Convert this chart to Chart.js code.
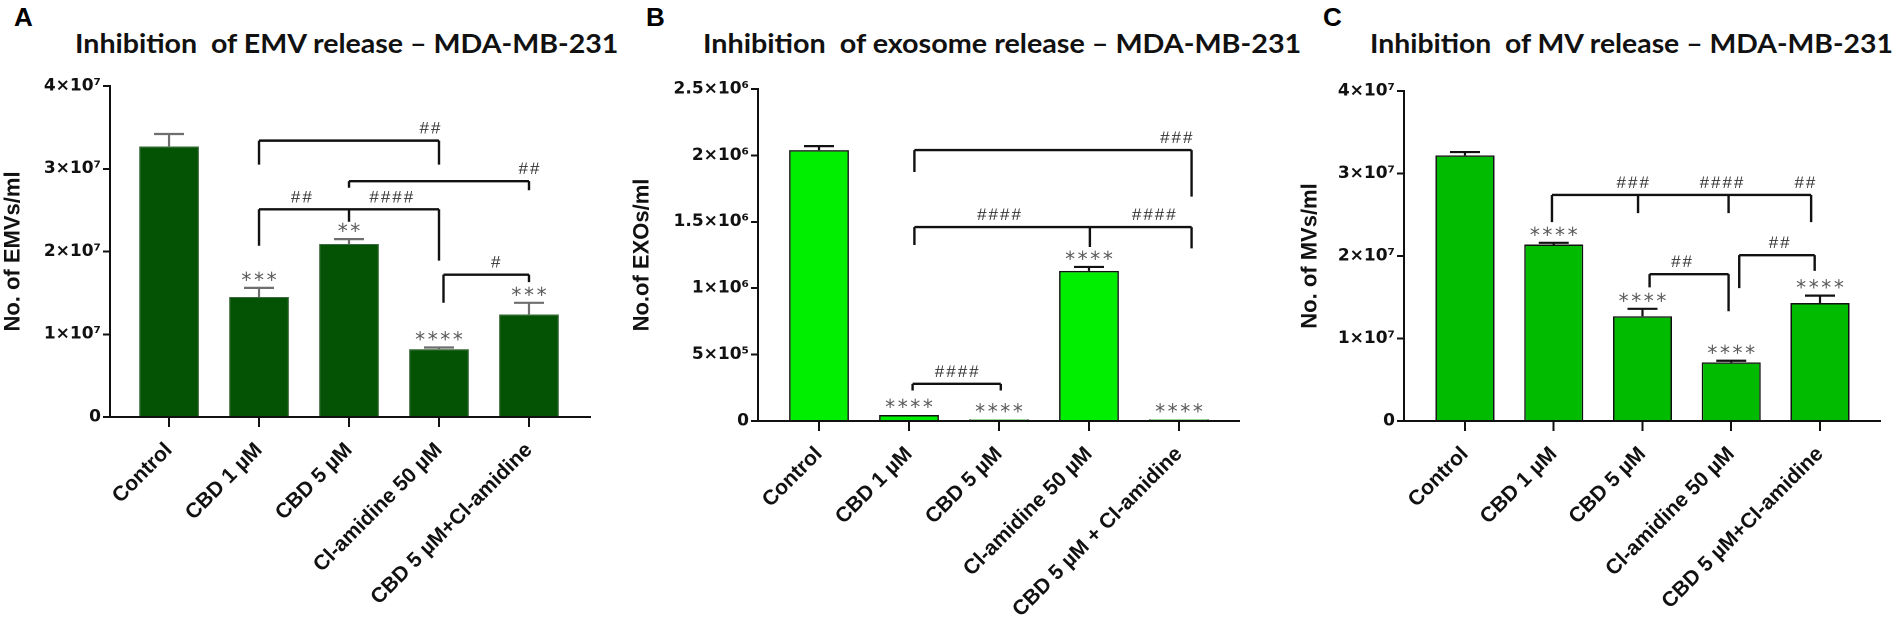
<!DOCTYPE html>
<html>
<head>
<meta charset="utf-8">
<script src="https://cdn.jsdelivr.net/npm/chart.js@4.4.1/dist/chart.umd.min.js"></script>
<style>
html, body { margin: 0; padding: 0; background: #fff; }
body { width: 1902px; height: 627px; overflow: hidden; position: relative; }
canvas { position: absolute; top: 0; }
.letter { position: absolute; top: 4px; font: bold 26px "Liberation Sans", Arial, sans-serif; line-height: 26px; color: #000; }
.title { position: absolute; top: 29px; font: 700 27px Lato, sans-serif; line-height: 27px; white-space: pre; transform-origin: 0 0; color: #111; }
</style>
</head>
<body>
<div class="letter" style="left:14px">A</div>
<div class="letter" style="left:646px">B</div>
<div class="letter" style="left:1323px">C</div>
<div class="title" style="left:75px" data-w="543">Inhibition  of EMV release – MDA-MB-231</div>
<div class="title" style="left:703px" data-w="598">Inhibition  of exosome release – MDA-MB-231</div>
<div class="title" style="left:1370px" data-w="523">Inhibition  of MV release – MDA-MB-231</div>
<canvas id="chartA" width="620" height="627" style="left:0px"></canvas>
<canvas id="chartB" width="632" height="627" style="left:628px"></canvas>
<canvas id="chartC" width="606" height="627" style="left:1296px"></canvas>
<script>
// categories
var categories = ['Control', 'CBD 1 µM', 'CBD 5 µM', 'Cl-amidine 50 µM', 'CBD 5 µM+Cl-amidine'];
var categoriesExo = ['Control', 'CBD 1 µM', 'CBD 5 µM', 'Cl-amidine 50 µM', 'CBD 5 µM + Cl-amidine'];

// A - EMVs
var emvMean = [3.27e7, 1.45e7, 2.09e7, 0.82e7, 1.24e7];
var emvErrTop = [3.42e7, 1.56e7, 2.15e7, 0.84e7, 1.38e7];
var emvStars = ['', '***', '**', '****', '***'];
var emvTicks = ['0', '1×10⁷', '2×10⁷', '3×10⁷', '4×10⁷'];

// B - exosomes
var exoMean = [2.04e6, 4.5e4, 1.2e4, 1.13e6, 1.2e4];
var exoErrTop = [2.07e6, 4.5e4, 1.2e4, 1.16e6, 1.2e4];
var exoStars = ['', '****', '****', '****', '****'];
var exoTicks = ['0', '5×10⁵', '1×10⁶', '1.5×10⁶', '2×10⁶', '2.5×10⁶'];

// C - MVs
var mvMean = [3.22e7, 2.14e7, 1.27e7, 0.71e7, 1.43e7];
var mvErrTop = [3.26e7, 2.16e7, 1.36e7, 0.73e7, 1.52e7];
var mvStars = ['', '****', '****', '****', '****'];
var mvTicks = ['0', '1×10⁷', '2×10⁷', '3×10⁷', '4×10⁷'];

// significance brackets (category index, value)
var emvBrackets = [
  { top: 3.34e7, legs: [[1, 3.05e7], [3, 3.05e7]], marks: [[2.9, '##']] },
  { top: 2.85e7, legs: [[2, 2.77e7], [4, 2.74e7]], marks: [[4, '##']] },
  { top: 2.51e7, legs: [[1, 2.07e7], [2, 2.36e7], [3, 1.89e7]], marks: [[1.47, '##'], [2.47, '####']] },
  { top: 1.72e7, legs: [[3.05, 1.38e7], [4, 1.63e7]], marks: [[3.63, '#']] }
];
var exoBrackets = [
  { top: 2.04e6, legs: [[1.06, 1.875e6], [4.14, 1.69e6]], marks: [[3.97, '###']] },
  { top: 1.46e6, legs: [[1.06, 1.325e6], [3.01, 1.31e6], [4.14, 1.3e6]], marks: [[2.0, '####'], [3.72, '####']] },
  { top: 2.8e5, legs: [[1.04, 2.3e5], [2.02, 2.3e5]], marks: [[1.53, '####']] }
];
var mvBrackets = [
  { top: 2.74e7, legs: [[0.98, 2.41e7], [1.95, 2.52e7], [2.97, 2.52e7], [3.9, 2.41e7]], marks: [[1.89, '###'], [2.89, '####'], [3.83, '##']] },
  { top: 1.78e7, legs: [[2.08, 1.62e7], [2.97, 1.33e7]], marks: [[2.44, '##']] },
  { top: 2.01e7, legs: [[3.09, 1.61e7], [3.94, 1.82e7]], marks: [[3.54, '##']] }
];

Chart.defaults.font.family = '"Liberation Sans", Arial, sans-serif';

//Draw error bars, stars and brackets on top of bars
function annotPlugin(p) {
  return {
    id: 'annot',
    afterDatasetsDraw: function(chart) {
      var ctx = chart.ctx, x = chart.scales.x, y = chart.scales.y;
      ctx.save();
      ctx.strokeStyle = p.errColor;
      ctx.lineWidth = 2.2;
      p.means.forEach(function(m, i) {
        if (p.tops[i] <= m) return;
        var px = x.getPixelForValue(i);
        var y0 = y.getPixelForValue(m), y1 = y.getPixelForValue(p.tops[i]);
        ctx.beginPath();
        ctx.moveTo(px, y0); ctx.lineTo(px, y1);
        ctx.moveTo(px - 15, y1); ctx.lineTo(px + 15, y1);
        ctx.stroke();
      });

      ctx.fillStyle = '#5a5a5a';
      ctx.font = '20px "DejaVu Sans"';
      ctx.textAlign = 'center';
      ctx.textBaseline = 'alphabetic';
      ctx.letterSpacing = '2.6px';
      p.stars.forEach(function(s, i) {
        if (!s) return;
        var top = Math.max(p.tops[i], p.means[i]);
        ctx.fillText(s, x.getPixelForValue(i) + 1.3, y.getPixelForValue(top) - 1);
      });

      ctx.strokeStyle = '#111';
      ctx.lineWidth = 2.4;
      ctx.fillStyle = '#333';
      ctx.font = '17px "Liberation Sans"';
      ctx.letterSpacing = '2px';
      p.brackets.forEach(function(b) {
        var yt = y.getPixelForValue(b.top);
        var xs = b.legs.map(function(l) { return x.getPixelForValue(l[0]); });
        ctx.beginPath();
        ctx.moveTo(Math.min.apply(null, xs), yt);
        ctx.lineTo(Math.max.apply(null, xs), yt);
        b.legs.forEach(function(l) {
          var px = x.getPixelForValue(l[0]);
          ctx.moveTo(px, yt);
          ctx.lineTo(px, y.getPixelForValue(l[1]));
        });
        ctx.stroke();
        b.marks.forEach(function(m) {
          ctx.fillText(m[1], x.getPixelForValue(m[0]) + 1, yt - 7);
        });
      });
      ctx.restore();
    }
  };
}

function makeChart(id, o) {
  return new Chart(document.getElementById(id), {
    type: 'bar',
    data: {
      datasets: [{
        data: o.means.map(function(v, i) { return { x: i, y: v }; }),
        backgroundColor: o.fill,
        borderColor: o.border,
        borderWidth: o.borderWidth,
        barPercentage: 0.665,
        categoryPercentage: 1
      }]
    },
    options: {
      responsive: false,
      animation: false,
      devicePixelRatio: 2,
      layout: { padding: { top: o.top, left: 0, right: o.right, bottom: 0 } },
      plugins: { legend: { display: false }, tooltip: { enabled: false } },
      scales: {
        x: {
          type: 'linear',
          min: o.xmin, max: o.xmax,
          offset: false,
          afterBuildTicks: function(s) { s.ticks = o.cats.map(function(c, i) { return { value: i }; }); },
          afterFit: function(s) { s.height = 627 - o.bottom; },
          ticks: {
            autoSkip: false, minRotation: 45, maxRotation: 45, padding: 11,
            color: '#111', font: { size: 21, weight: 'bold' },
            callback: function(v) { return o.cats[Math.round(v)]; }
          },
          grid: { offset: false, drawOnChartArea: false, drawTicks: true, tickLength: 10, color: '#111', lineWidth: 2 },
          border: { display: true, color: '#111', width: 2 }
        },
        y: {
          min: 0, max: o.ymax,
          afterFit: function(s) { s.width = o.yw; },
          ticks: {
            stepSize: o.step, padding: 2, color: '#111',
            font: { family: '"DejaVu Sans"', size: 17, weight: 'bold' },
            callback: function(v, i) { return o.ticks[i]; }
          },
          grid: { drawOnChartArea: false, drawTicks: true, tickLength: 7, color: '#111', lineWidth: 2 },
          border: { display: true, color: '#111', width: 2 },
          title: { display: true, text: o.ytitle, color: '#111', font: { size: 22, weight: 'bold' }, padding: { top: o.tpad, bottom: 0 } }
        }
      }
    },
    plugins: [annotPlugin(o)]
  });
}

makeChart('chartA', {
  cats: categories, means: emvMean, tops: emvErrTop, stars: emvStars, ticks: emvTicks, brackets: emvBrackets,
  fill: '#045304', border: '#3f6a3f', borderWidth: 1, errColor: '#6e6e6e',
  ymax: 4e7, step: 1e7, ytitle: 'No. of EMVs/ml',
  top: 86, bottom: 417, right: 30, yw: 110, tpad: 0, xmin: -0.656, xmax: 4.678
});

makeChart('chartB', {
  cats: categoriesExo, means: exoMean, tops: exoErrTop, stars: exoStars, ticks: exoTicks, brackets: exoBrackets,
  fill: '#00ee00', border: '#111', borderWidth: 1.5, errColor: '#111',
  ymax: 2.5e6, step: 5e5, ytitle: 'No.of EXOs/ml',
  top: 89, bottom: 421, right: 21, yw: 130, tpad: 1, xmin: -0.678, xmax: 4.667
});

makeChart('chartC', {
  cats: categories, means: mvMean, tops: mvErrTop, stars: mvStars, ticks: mvTicks, brackets: mvBrackets,
  fill: '#00bb00', border: '#111', borderWidth: 1.5, errColor: '#111',
  ymax: 4e7, step: 1e7, ytitle: 'No. of MVs/ml',
  top: 91, bottom: 421, right: 22, yw: 108, tpad: 1, xmin: -0.687, xmax: 4.676
});

//Fit panel titles to the width they take in the figure
document.querySelectorAll('.title').forEach(function(el) {
  var w = parseFloat(el.getAttribute('data-w'));
  el.style.transform = 'scaleX(' + (w / el.offsetWidth) + ')';
});
</script>
</body>
</html>
